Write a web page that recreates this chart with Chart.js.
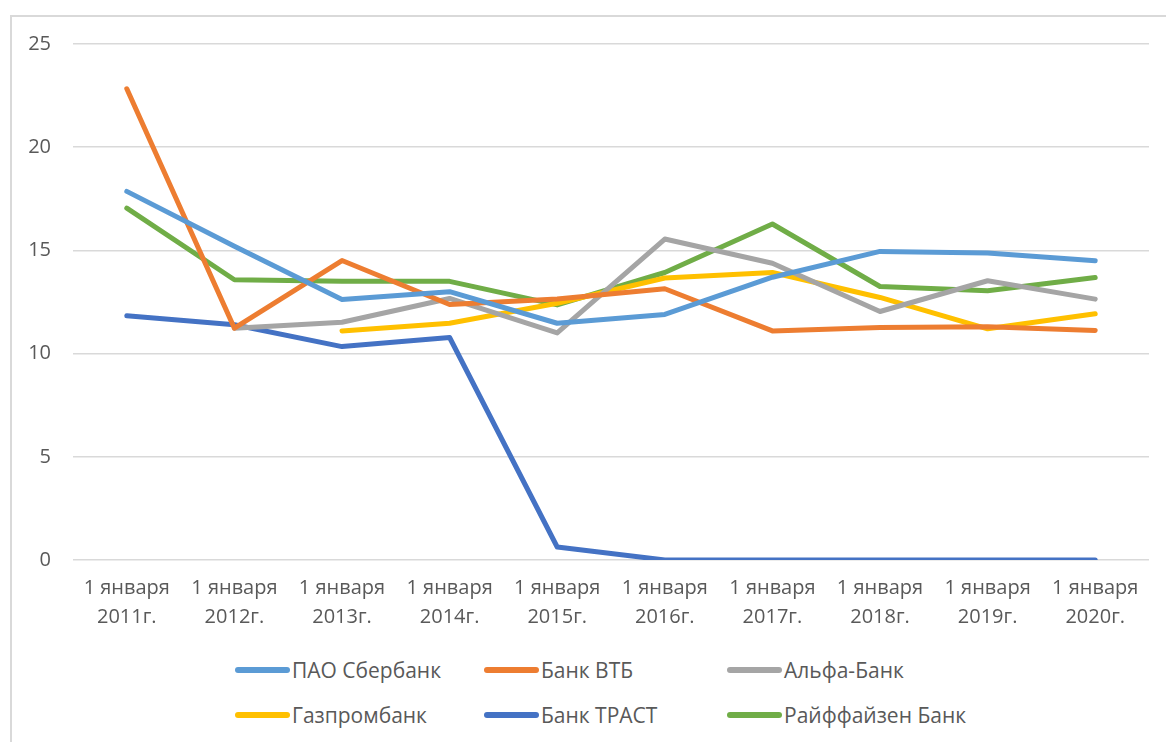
<!DOCTYPE html>
<html>
<head>
<meta charset="utf-8">
<script src="https://cdn.jsdelivr.net/npm/chart.js@4/dist/chart.umd.min.js"></script>
<style>
  html, body { margin: 0; padding: 0; background: #fff; }
  body { width: 1166px; height: 742px; position: relative; overflow: hidden; font-family: "Open Sans", sans-serif; }
  #frame { position: absolute; left: 10px; top: 15px; width: 1160px; height: 740px; border: 2px solid #d9d9d9; box-sizing: border-box; }
  #wrap { position: absolute; left: 12px; top: 10px; width: 1154px; height: 630px; }
  #legend { position: absolute; left: 0; top: 648px; width: 1166px; }
  .row { position: absolute; left: 0; width: 1166px; height: 30px; }
  .item { position: absolute; display: flex; align-items: center; color: #595959; font-size: 21px; white-space: nowrap; }
  .swatch { width: 55px; height: 6px; border-radius: 3px; margin-right: 2px; }
</style>
</head>
<body>
<div id="frame"></div>
<div id="wrap"><canvas id="chart"></canvas></div>
<div id="legend"></div>
<script>
// категории (ось X)
const categories = [
  ['1 января', '2011г.'], ['1 января', '2012г.'], ['1 января', '2013г.'], ['1 января', '2014г.'],
  ['1 января', '2015г.'], ['1 января', '2016г.'], ['1 января', '2017г.'], ['1 января', '2018г.'],
  ['1 января', '2019г.'], ['1 января', '2020г.']
];

// значения по банкам
const sberbank   = [17.86, 15.2, 12.62, 13.0, 11.47, 11.9, 13.7, 14.95, 14.87, 14.5];
const vtb        = [22.83, 11.23, 14.51, 12.38, 12.65, 13.14, 11.1, 11.26, 11.3, 11.12];
const alfa       = [null, 11.23, 11.52, 12.67, 11.0, 15.55, 14.38, 12.04, 13.53, 12.64];
const gazprom    = [null, null, 11.1, 11.47, 12.44, 13.66, 13.93, 12.72, 11.2, 11.93];
const trast      = [11.83, 11.4, 10.34, 10.78, 0.63, 0, 0, 0, 0, 0];
const raiffeisen = [17.05, 13.58, 13.5, 13.5, 12.36, 13.93, 16.28, 13.25, 13.04, 13.69];

const seriesNames = ['ПАО Сбербанк', 'Банк ВТБ', 'Альфа-Банк', 'Газпромбанк', 'Банк ТРАСТ', 'Райффайзен Банк'];
const seriesData = [sberbank, vtb, alfa, gazprom, trast, raiffeisen];
const seriesColors = ['#5b9bd5', '#ed7d31', '#a5a5a5', '#ffc000', '#4472c4', '#70ad47'];

// подписи оси Y
const yMin = 0;
const yMax = 25;
const yStep = 5;

const datasets = seriesNames.map((name, i) => ({
  label: name,
  data: seriesData[i],
  borderColor: seriesColors[i],
  backgroundColor: seriesColors[i],
  borderWidth: 5,
  borderCapStyle: 'round',
  borderJoinStyle: 'round',
  pointRadius: 0,
  tension: 0,
  spanGaps: false
}));

const ctx = document.getElementById('chart').getContext('2d');
const chart = new Chart(ctx, {
  type: 'line',
  data: { labels: categories, datasets: datasets },
  options: {
    responsive: true,
    maintainAspectRatio: false,
    animation: false,
    layout: { padding: { top: 15, right: 17, left: 0, bottom: 0 } },
    plugins: {
      legend: { display: false },
      tooltip: { enabled: false }
    },
    scales: {
      x: {
        offset: true,
        grid: { display: false },
        border: { display: false },
        ticks: {
          color: '#595959',
          font: { family: '"Open Sans", sans-serif', size: 20, lineHeight: 1.45 },
          maxRotation: 0,
          autoSkip: false,
          padding: 6
        },
        afterFit: function(scale) { scale.height = 80; }
      },
      y: {
        min: yMin,
        max: yMax,
        grid: { color: '#d9d9d9', lineWidth: 1.5, drawTicks: false },
        border: { display: false },
        ticks: {
          stepSize: yStep,
          color: '#595959',
          font: { family: '"Open Sans", sans-serif', size: 20 },
          padding: 22
        },
        afterFit: function(scale) { scale.width = 61; }
      }
    }
  }
});

// легенда в три колонки
const legend = document.getElementById('legend');
const colX = [235, 484, 727];
const rowY = [8, 53];
seriesNames.forEach((name, i) => {
  let row = document.querySelector('#legend .r' + Math.floor(i / 3));
  if (!row) {
    row = document.createElement('div');
    row.className = 'row r' + Math.floor(i / 3);
    row.style.top = rowY[Math.floor(i / 3)] + 'px';
    legend.appendChild(row);
  }
  const item = document.createElement('div');
  item.className = 'item';
  item.style.left = colX[i % 3] + 'px';
  item.innerHTML = '<span class="swatch" style="background:' + seriesColors[i] + '"></span>' + name;
  row.appendChild(item);
});
</script>
</body>
</html>
